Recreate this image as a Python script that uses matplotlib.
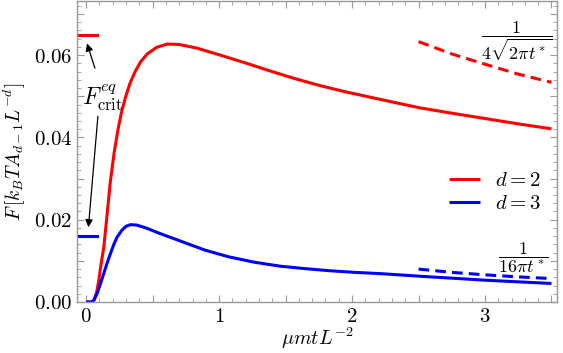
import matplotlib
matplotlib.use('Agg')
from matplotlib import pyplot as plt
from matplotlib.ticker import MultipleLocator, FuncFormatter

plt.rcParams['mathtext.fontset'] = 'cm'
plt.rcParams['font.family'] = 'serif'
plt.rcParams['font.serif'] = ['DejaVu Serif']

# d = 2 curve
t2 = [0.0, 0.04, 0.06, 0.08, 0.095, 0.11, 0.133, 0.155, 0.183, 0.21, 0.238, 0.265,
      0.296, 0.33, 0.371, 0.41, 0.459, 0.53, 0.609, 0.7, 0.835, 1.0, 1.2, 1.38, 1.57,
      1.76, 1.95, 2.135, 2.32, 2.51, 2.75, 3.0, 3.25, 3.5]
F2 = [0.0, 0.0, 0.0005, 0.0025, 0.0053, 0.0088, 0.0134, 0.0205, 0.0296, 0.0362, 0.0417, 0.0460,
      0.0498, 0.0532, 0.0562, 0.0584, 0.0603, 0.0619, 0.0627, 0.0626, 0.0617, 0.0601, 0.0581, 0.0562, 0.0543,
      0.0526, 0.0511, 0.0498, 0.0485, 0.0472, 0.0459, 0.0446, 0.0433, 0.0421]

# d = 3 curve
t3 = [0.0, 0.045, 0.06, 0.083, 0.108, 0.133, 0.158, 0.183, 0.208, 0.233, 0.27, 0.3, 0.333,
      0.38, 0.45, 0.559, 0.66, 0.76, 0.895, 1.07, 1.26, 1.46, 1.65, 1.83, 2.02, 2.21,
      2.4, 2.59, 2.8, 3.0, 3.25, 3.5]
F3 = [0.0, 0.0, 0.0006, 0.0021, 0.0045, 0.0070, 0.0095, 0.0118, 0.0140, 0.0158, 0.0175, 0.0184, 0.0188,
      0.0187, 0.0180, 0.0166, 0.0154, 0.0142, 0.0126, 0.0110, 0.0097, 0.0087, 0.0081, 0.0076, 0.0072, 0.0069,
      0.0065, 0.0061, 0.0057, 0.0053, 0.0049, 0.0045]

# asymptotes
ta = [2.5, 2.75, 3.0, 3.25, 3.5]
Fa2 = [0.0633, 0.0603, 0.0578, 0.0554, 0.0534]
Fa3 = [0.0080, 0.0072, 0.0066, 0.0061, 0.0057]

# critical values
Fc2 = 0.0649
Fc3 = 0.0161
tc = [-0.07, 0.08]

fig = plt.figure(figsize=(5.63, 3.53), dpi=100)
ax = fig.add_axes([0.137, 0.1445, 0.852, 0.853])

ax.plot(t2, F2, color='#ff0000', lw=2.2, label='$d=2$', solid_capstyle='butt')
ax.plot(t3, F3, color='#0000ff', lw=2.2, label='$d=3$', solid_capstyle='butt')
ax.plot(ta, Fa2, color='#ff0000', lw=2.2, dashes=(3.5, 2))
ax.plot(ta, Fa3, color='#0000ff', lw=2.2, dashes=(3.5, 2))
ax.plot(tc, [Fc2, Fc2], color='#ff0000', lw=2.2)
ax.plot(tc, [Fc3, Fc3], color='#0000ff', lw=2.2)

ax.set_xlim(-0.068, 3.54)
ax.set_ylim(0, 0.0732)

ax.annotate('', xy=(0.0, 0.0635), xytext=(0.072, 0.0562),
            arrowprops=dict(arrowstyle='-|>', color='black', lw=0.9, mutation_scale=11))
ax.annotate('', xy=(0.015, 0.0175), xytext=(0.09, 0.0458),
            arrowprops=dict(arrowstyle='-|>', color='black', lw=0.9, mutation_scale=11))
ax.text(0.125, 0.0497, r'$F^{eq}_{\mathrm{crit}}$', fontsize=17, ha='center', va='center')

ax.text(3.24, 0.0633, r'$\dfrac{1}{4\sqrt{2\pi t^*}}$', fontsize=13, ha='center', va='center')
ax.text(3.29, 0.0109, r'$\dfrac{1}{16\pi t^*}$', fontsize=13, ha='center', va='center')

ax.legend(loc='center right', bbox_to_anchor=(1.005, 0.365), frameon=False, fontsize=15,
          handlelength=1.5, handletextpad=0.7, labelspacing=0.2)

ax.xaxis.set_major_locator(MultipleLocator(0.5))
ax.xaxis.set_minor_locator(MultipleLocator(0.1))
ax.yaxis.set_major_locator(MultipleLocator(0.01))
ax.yaxis.set_minor_locator(MultipleLocator(0.002))

def xfmt(v, pos):
    if abs(v - round(v)) < 1e-6:
        return '$%d$' % round(v)
    return ''

def yfmt(v, pos):
    k = round(v / 0.01)
    if k % 2 == 0:
        return '$%.2f$' % v
    return ''

ax.xaxis.set_major_formatter(FuncFormatter(xfmt))
ax.yaxis.set_major_formatter(FuncFormatter(yfmt))

gray = '#999999'
for s in ax.spines.values():
    s.set_color(gray)
    s.set_linewidth(1.0)
ax.tick_params(which='both', direction='in', top=True, right=True, color=gray, labelsize=15)
ax.tick_params(which='major', length=5, width=0.8)
ax.tick_params(which='minor', length=3, width=0.6)

ax.set_xlabel(r'$\mu mtL^{-2}$', fontsize=14.5, labelpad=0)
ax.set_ylabel(r'$F\,[k_BTA_{d-1}L^{-d}]$', fontsize=14, labelpad=4)

fig.savefig('out.png', dpi=100)
